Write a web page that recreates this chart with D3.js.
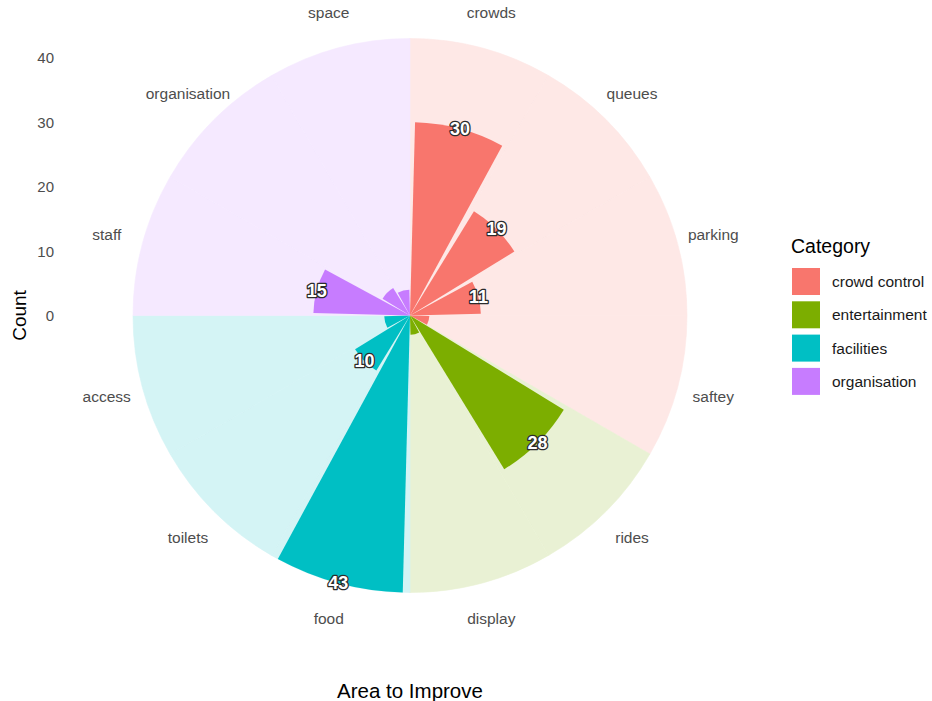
<!DOCTYPE html>
<html>
<head>
<meta charset="utf-8">
<script src="https://cdn.jsdelivr.net/npm/d3@7"></script>
<style>
  html, body { margin: 0; padding: 0; background: #ffffff; }
  svg { display: block; font-family: "Liberation Sans", Arial, sans-serif; }
</style>
</head>
<body>
<svg id="chart" width="932" height="701"></svg>
<script>
// ---- data ----
const areas = ["crowds", "queues", "parking", "saftey", "rides", "display",
               "food", "toilets", "access", "staff", "organisation", "space"];
const counts = [30, 19, 11, 3, 28, 3, 43, 10, 4, 15, 5, 4];
const areaCategory = ["crowd control", "crowd control", "crowd control", "crowd control",
                      "entertainment", "entertainment",
                      "facilities", "facilities", "facilities",
                      "organisation", "organisation", "organisation"];
const categories = ["crowd control", "entertainment", "facilities", "organisation"];
const categoryColors = ["#F8766D", "#7CAE00", "#00BFC4", "#C77CFF"];
const yTicks = [0, 10, 20, 30, 40];
const labelMin = 10;

// ---- layout ----
const svg = d3.select("#chart");
const cx = 410, cy = 315.5;
const yMax = d3.max(counts);

const r = d3.scaleLinear().domain([0, yMax]).range([0, 277]);
const theta = d3.scaleBand().domain(areas).range([0, 2 * Math.PI]).paddingInner(0).paddingOuter(0);
const color = d3.scaleOrdinal().domain(categories).range(categoryColors);
const light = c => d3.interpolateRgb("#ffffff", color(c))(0.17);

const data = areas.map((a, i) => ({ area: a, count: counts[i], cat: areaCategory[i] }));

const g = svg.append("g").attr("transform", `translate(${cx},${cy})`);

// background sectors
const bgArc = d3.arc()
  .innerRadius(0)
  .outerRadius(r(yMax))
  .startAngle(d => theta(d.area))
  .endAngle(d => theta(d.area) + theta.bandwidth());

g.selectAll("path.bg").data(data).enter().append("path")
  .attr("class", "bg")
  .attr("d", bgArc)
  .attr("fill", d => light(d.cat))
  .attr("stroke", d => light(d.cat))
  .attr("stroke-width", 0.6);

// bars (width 0.9 of band)
const bw = theta.bandwidth();
const barArc = d3.arc()
  .innerRadius(0)
  .outerRadius(d => r(d.count))
  .startAngle(d => theta(d.area) + bw * 0.05)
  .endAngle(d => theta(d.area) + bw * 0.95);

g.selectAll("path.bar").data(data).enter().append("path")
  .attr("class", "bar")
  .attr("d", barArc)
  .attr("fill", d => color(d.cat));

// value labels
const mid = d => theta(d.area) + bw / 2;
g.selectAll("text.val").data(data.filter(d => d.count >= labelMin)).enter().append("text")
  .attr("class", "val")
  .attr("x", d => r(d.count) * Math.sin(mid(d)))
  .attr("y", d => -r(d.count) * Math.cos(mid(d)))
  .attr("text-anchor", "middle")
  .attr("dominant-baseline", "central")
  .attr("font-size", 18)
  .attr("font-weight", "bold")
  .attr("fill", "#ffffff")
  .attr("stroke", "#2b2b2b")
  .attr("stroke-width", 2.6)
  .attr("paint-order", "stroke")
  .attr("stroke-linejoin", "round")
  .text(d => d.count);

// category (theta) labels
const labR = 314;
g.selectAll("text.cat").data(data).enter().append("text")
  .attr("class", "cat")
  .attr("x", d => labR * Math.sin(mid(d)))
  .attr("y", d => -labR * Math.cos(mid(d)))
  .attr("text-anchor", "middle")
  .attr("dominant-baseline", "central")
  .attr("font-size", 15.5)
  .attr("fill", "#4D4D4D")
  .text(d => d.area);

// radial (y) axis labels on the left
svg.append("g").selectAll("text").data(yTicks).enter().append("text")
  .attr("x", 54)
  .attr("y", d => cy - r(d))
  .attr("text-anchor", "end")
  .attr("dominant-baseline", "central")
  .attr("font-size", 15)
  .attr("fill", "#4D4D4D")
  .text(d => d);

// axis titles
svg.append("text")
  .attr("transform", `translate(19,${cy}) rotate(-90)`)
  .attr("text-anchor", "middle")
  .attr("dominant-baseline", "central")
  .attr("font-size", 19)
  .attr("fill", "#000000")
  .text("Count");

svg.append("text")
  .attr("x", cx)
  .attr("y", 690)
  .attr("text-anchor", "middle")
  .attr("dominant-baseline", "central")
  .attr("font-size", 20.5)
  .attr("fill", "#000000")
  .text("Area to Improve");

// legend
const lg = svg.append("g").attr("transform", "translate(791,246)");
lg.append("text")
  .attr("x", 0).attr("y", 0)
  .attr("dominant-baseline", "central")
  .attr("font-size", 19.5)
  .attr("fill", "#000000")
  .text("Category");

const items = lg.selectAll("g.item").data(categories).enter().append("g")
  .attr("class", "item")
  .attr("transform", (d, i) => `translate(0,${22 + i * 33.3})`);
items.append("rect")
  .attr("x", 1).attr("y", 0)
  .attr("width", 28).attr("height", 27)
  .attr("fill", d => color(d));
items.append("text")
  .attr("x", 41).attr("y", 13.5)
  .attr("dominant-baseline", "central")
  .attr("font-size", 15.5)
  .attr("fill", "#1a1a1a")
  .text(d => d);
</script>
</body>
</html>
